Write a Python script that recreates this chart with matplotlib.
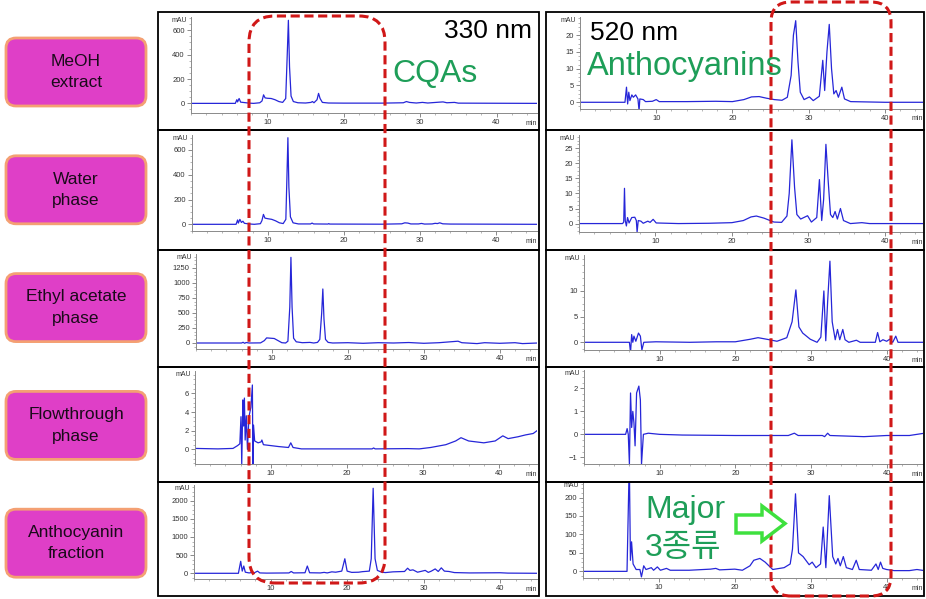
import matplotlib
matplotlib.use("Agg")
import matplotlib.pyplot as plt
from matplotlib.patches import FancyBboxPatch, Rectangle, Polygon
from matplotlib.transforms import IdentityTransform
from matplotlib.ticker import AutoMinorLocator

plt.rcParams['font.family'] = ['Liberation Sans', 'Noto Sans CJK KR', 'DejaVu Sans']

# chromatogram traces: (time in min, absorbance in mAU)
meoh_330 = [(0, 0), (5.8, 0), (6.0, 30), (6.1, 12), (6.3, 40), (6.5, 10), (6.8, 8), (7.2, 5), (7.6, 2), (8.2, 0),
            (9.0, 5), (9.3, 20), (9.5, 70), (9.7, 45), (10.0, 42), (10.5, 40), (11.0, 30), (11.5, 15), (12.0, 8),
            (12.4, 40), (12.6, 400), (12.75, 682), (12.9, 300), (13.1, 60), (13.4, 15), (14.0, 5), (15.0, 3),
            (15.7, 8), (15.9, 15), (16.1, 5), (16.5, 30), (16.7, 82), (16.9, 40), (17.2, 8), (18.0, 3), (20.0, 2),
            (25.0, 2), (27.8, 5), (28.2, 15), (28.6, 8), (29.5, 3), (30.3, 8), (31.0, 3), (32.5, 10), (33.0, 12),
            (33.5, 5), (34.5, 8), (35.0, 2), (40.0, 1), (45.3, 0)]
water_330 = [(0, 0), (5.8, 0), (6.0, 35), (6.1, 10), (6.3, 40), (6.5, 15), (6.7, 25), (6.9, 8), (7.5, 3), (8.2, 0),
             (9.0, 5), (9.2, 30), (9.4, 80), (9.6, 50), (10.0, 45), (10.5, 40), (11.0, 28), (11.5, 12), (12.0, 6),
             (12.35, 40), (12.5, 400), (12.62, 699), (12.75, 300), (12.95, 60), (13.3, 12), (14, 3), (15.6, 3),
             (15.8, 10), (16.0, 3), (17.9, 2), (18.0, 6), (18.1, 2), (25, 1), (27.6, 4), (28.0, 12), (28.4, 10),
             (28.8, 3), (29.8, 3), (30.2, 7), (30.6, 2), (31.6, 3), (32.0, 8), (32.3, 6), (32.6, 12), (33.0, 4),
             (34, 2), (40, 1), (45.4, 0)]
etoac_330 = [(0, 0), (6.0, 0), (6.2, 12), (6.4, -5), (6.6, 8), (7.0, 0), (8.5, 2), (9.0, 40), (9.3, 85), (9.8, 80),
             (10.3, 75), (10.8, 40), (11.3, 5), (11.8, 0), (12.1, 30), (12.35, 600), (12.5, 1427), (12.65, 600),
             (12.85, 80), (13.2, 20), (14, 5), (15, 10), (15.5, 0), (16.0, 10), (16.3, 60), (16.55, 500),
             (16.7, 900), (16.85, 400), (17.05, 60), (17.4, 10), (18, 0), (20, 5), (22, -5), (24, 5), (26, 0),
             (28, 8), (30, -5), (32, 5), (34.5, 30), (35, 5), (37, -10), (38, 5), (40, -5), (42, 5), (43, -10),
             (45, 0)]
flow_330 = [(0, 0.1), (3, 0.05), (5.0, 0.1), (5.6, 0.4), (5.9, 0.6), (6.05, 3.5), (6.15, -1.6), (6.3, 5.3),
            (6.4, 2.5), (6.5, 5.5), (6.6, 1.0), (6.75, 3.6), (6.9, 0.0), (7.1, 3.5), (7.35, 4.5), (7.55, 6.9),
            (7.62, -1.6), (7.7, 2.6), (7.85, 0.9), (8.3, 0.7), (8.7, 0.8), (8.8, 1.0), (9.0, 0.5), (10, 0.4),
            (11, 0.3), (12.3, 0.2), (12.6, 0.7), (12.9, 0.2), (14, 0.05), (20, 0.05), (23.3, 0.05), (23.5, 0.15),
            (23.7, 0.05), (28, 0.08), (29.5, 0.05), (31, 0.2), (33, 0.5), (34.3, 0.9), (35.0, 1.25), (36.0, 0.9),
            (38, 0.7), (39.5, 0.9), (40.5, 1.45), (41.2, 1.15), (42.5, 1.35), (43.5, 1.55), (44.5, 1.7), (45.0, 2.0)]
antho_330 = [(0, 0), (5.8, 0), (6.1, 330), (6.3, 60), (6.5, 200), (6.7, 30), (7.2, 10), (7.5, 20), (7.8, 5),
             (8.3, 60), (8.6, 10), (9.5, 5), (12.4, 10), (12.7, 50), (13.0, 10), (14.5, 15), (14.8, 200), (15.1, 15),
             (16.5, 10), (17.0, 25), (17.4, 10), (18.0, 40), (18.5, 30), (19.3, 60), (19.7, 400), (20.0, 60),
             (20.6, 25), (21.5, 30), (22.0, 45), (22.9, 60), (23.15, 400), (23.4, 2340), (23.65, 400), (23.95, 80),
             (24.5, 30), (25, 20), (26, 40), (27.5, 50), (27.9, 140), (28.2, 80), (28.6, 95), (29.2, 30), (30.2, 80),
             (30.6, 25), (31.0, 60), (31.5, 120), (31.9, 50), (32.3, 150), (32.7, 60), (33.3, 50), (34, 20),
             (35, 15), (36, 10), (40, 15), (41, 5), (45, 0)]

meoh_520 = [(0, 0), (5.9, 0), (6.1, 4.5), (6.25, -0.5), (6.4, 3.0), (6.55, 0.5), (6.8, 2.2), (7.0, 1.5), (7.3, 2.2),
            (7.6, 1.0), (7.75, -2.5), (7.85, 1.0), (8.3, 0.8), (8.6, 0.2), (9.5, 0.3), (10.0, 0.8), (10.4, 0.2),
            (14, 0.2), (17.8, 0.3), (20, 0.2), (21.5, 0.8), (22.5, 1.6), (23.5, 1.7), (24.5, 1.2), (25.5, 0.8),
            (26.5, 0.6), (27.2, 1.5), (27.7, 8), (28.0, 20), (28.3, 24.3), (28.6, 12), (28.9, 3), (29.4, 0.8),
            (30.1, 1.6), (30.6, 0.5), (31.4, 1.8), (31.85, 12.5), (32.1, 3.5), (32.4, 15), (32.7, 23.2), (33.0, 10),
            (33.3, 2.5), (33.6, 3.5), (33.9, 1.5), (34.35, 4.5), (34.7, 1.0), (35.5, 0.2), (40, 0), (45, 0)]
water_520 = [(0, 0), (5.7, 0), (5.85, 0.5), (5.95, 11.7), (6.05, 1.0), (6.2, -0.8), (6.35, 2.0), (6.55, 0.2),
             (6.9, 2.0), (7.3, 2.1), (7.5, 1.0), (7.6, -2.8), (7.75, 1.0), (8.1, 0.8), (8.4, 0.1), (9.0, 0.8),
             (9.3, 0.4), (9.7, 1.4), (10.1, 0.2), (13, 0), (17, 0.1), (20, 0.3), (21.5, 1.0), (22.5, 2.2), (23.2, 2.5),
             (24.2, 1.8), (25.5, 0.5), (26.5, 0.4), (27.2, 2.5), (27.5, 10), (27.85, 27.8), (28.2, 12), (28.5, 3),
             (29, 1.5), (29.9, 2.6), (30.4, 0.5), (31.1, 2), (31.45, 14.6), (31.75, 1.0), (32.0, 8), (32.3, 26.3),
             (32.6, 14), (32.9, 3), (33.2, 2), (33.5, 4), (33.8, 1.5), (34.2, 5), (34.6, 1), (35.5, 0), (37, 0.3),
             (38, 0), (45, 0)]
etoac_520 = [(0, 0), (6.0, 0), (6.15, -2.0), (6.3, 1.5), (6.45, 0), (6.6, 1.2), (6.85, 0.2), (7.2, 1.8), (7.45, 1.2),
             (7.65, -1.5), (7.9, 0), (9.5, 0.1), (14, 0), (17.5, 0.1), (20, 0.1), (22, 0.6), (23, 0.9), (24.5, 0.5),
             (25.5, 0.2), (26.8, 0.9), (27.5, 4), (28.0, 10.2), (28.4, 3), (28.9, 1.8), (29.9, 0.6), (30.8, 0),
             (31.3, 1.0), (31.7, 10), (31.95, 0.3), (32.2, 8), (32.5, 15.8), (32.8, 4), (33.2, 0.5), (33.5, 2.5),
             (33.8, 0.5), (34.2, 2.5), (34.5, 0.5), (35, 0), (36, 0.4), (36.5, 0), (38.5, 0), (38.8, 1.9), (39.1, 0.1),
             (39.5, 0.5), (40.0, 0.2), (40.4, 0.6), (40.8, 0), (41.2, 1.2), (41.5, 0), (45, 0)]
flow_520 = [(0, 0), (5.5, 0), (5.7, 0.25), (5.85, 0), (6.0, -1.3), (6.15, 1.8), (6.3, 0.3), (6.45, 1.0), (6.6, 0.5),
            (6.75, -0.5), (6.95, 1.8), (7.25, 2.1), (7.45, 1.5), (7.6, -1.3), (7.85, 0), (8.5, 0.05), (10, 0),
            (13, -0.03), (20, -0.05), (27, -0.05), (27.8, 0.05), (28.3, -0.05), (31.5, -0.05), (31.8, -0.1),
            (32.2, 0.05), (32.5, -0.05), (37, -0.1), (40, -0.05), (43, -0.05), (45, 0.05)]
antho_520 = [(0, 0), (5.8, 0), (6.1, 300), (6.25, 30), (6.4, 80), (6.6, 20), (7.0, 5), (7.5, 5), (7.7, -15), (8.0, 15),
             (8.3, 5), (9.0, 10), (9.3, 3), (9.8, 12), (10.2, 3), (11.0, 8), (11.5, 3), (14, 3), (16.8, 6), (17.5, 8),
             (18, 4), (20, 6), (21, 3), (22, 15), (22.5, 30), (23.3, 35), (24, 25), (25, 5), (26.5, 10), (27.3, 20),
             (27.6, 60), (28.0, 210), (28.4, 50), (29, 40), (29.8, 18), (30.2, 25), (30.7, 10), (31.3, 20),
             (31.65, 120), (32.0, 10), (32.45, 205), (32.9, 40), (33.3, 20), (33.6, 35), (33.9, 15), (34.3, 40),
             (34.7, 10), (35.5, 5), (36, 30), (36.4, 5), (38, 3), (38.6, 20), (38.9, 5), (39.2, 25), (39.5, 8),
             (40, 5), (41, 2), (43, 2), (44, 5), (45, 2)]

sample_labels = ["MeOH\nextract", "Water\nphase", "Ethyl acetate\nphase", "Flowthrough\nphase",
                 "Anthocyanin\nfraction"]
time_ticks = [10, 20, 30, 40]

W, H = 926, 599
fig = plt.figure(figsize=(W / 100, H / 100), dpi=100)
px = IdentityTransform()

# (trace, axes box in pixels l, t, r, b, ylim, y ticks, xmax)
panels = [
    (meoh_330, (191, 17, 537, 113), (-79, 709), [0, 200, 400, 600], 45.3),
    (water_330, (192, 135, 537, 231), (-54, 721), [0, 200, 400, 600], 45.4),
    (etoac_330, (196, 254, 537, 349), (-100, 1483), [0, 250, 500, 750, 1000, 1250], 44.9),
    (flow_330, (195, 371, 537, 464), (-1.57, 8.4), [0, 2, 4, 6], 45.0),
    (antho_330, (194, 485, 537, 579), (-157, 2430), [0, 500, 1000, 1500, 2000], 44.8),
    (meoh_520, (580, 17, 923, 109), (-2, 25.4), [0, 5, 10, 15, 20], 45.0),
    (water_520, (579, 135, 923, 232), (-2.8, 29.4), [0, 5, 10, 15, 20, 25], 45.0),
    (etoac_520, (584, 255, 923, 350), (-1.5, 17), [0, 5, 10], 44.8),
    (flow_520, (584, 370, 923, 464), (-1.29, 2.8), [-1, 0, 1, 2], 44.8),
    (antho_520, (583, 482, 923, 578), (-18, 242), [0, 50, 100, 150, 200], 44.8),
]

for trace, (l, t, r, b), ylim, yticks, xmax in panels:
    ax = fig.add_axes([l / W, 1 - b / H, (r - l) / W, (b - t) / H])
    xs = [p[0] for p in trace]
    ys = [p[1] for p in trace]
    ax.plot(xs, ys, color='#2626d8', lw=0.9)
    ax.set_xlim(0, xmax)
    ax.set_ylim(*ylim)
    ax.set_facecolor('none')
    for s in ['top', 'right']:
        ax.spines[s].set_visible(False)
    for s in ['left', 'bottom']:
        ax.spines[s].set_color('#8a8a8a')
        ax.spines[s].set_linewidth(0.7)
    ax.set_xticks(time_ticks)
    ax.set_yticks(yticks)
    ax.set_yticklabels([str(v) if v >= 0 else '\u22121' for v in yticks])
    ax.xaxis.set_minor_locator(AutoMinorLocator(5))
    ax.yaxis.set_minor_locator(AutoMinorLocator(4))
    ax.tick_params(which='major', direction='out', length=3, width=0.6, color='#777777',
                   labelsize=5.5, labelcolor='#333333', pad=1.5)
    ax.tick_params(which='minor', direction='out', length=1.6, width=0.5, color='#999999')
    ax.text(-0.012, 1.0, 'mAU', transform=ax.transAxes, ha='right', va='top', fontsize=5, color='#333333')
    ax.text(1.0, -0.07, 'min', transform=ax.transAxes, ha='right', va='top', fontsize=5, color='#333333')

# panel frames
for x0, x1 in [(158, 539), (546, 924)]:
    for y0, y1 in [(12, 130), (130, 250), (250, 367), (367, 482), (482, 596)]:
        fig.add_artist(Rectangle((x0, H - y1), x1 - x0, y1 - y0, transform=px, fill=False,
                                 ec='black', lw=1.3, zorder=5))

# sample label boxes
for i, lab in enumerate(sample_labels):
    top = 38 + i * 117.8
    fig.add_artist(FancyBboxPatch((6, H - top - 68), 140, 68, boxstyle="round,pad=0,rounding_size=10",
                                  transform=px, fc='#df3fc7', ec='#f4a073', lw=2, zorder=4))
    fig.text(76 / W, 1 - (top + 34) / H, lab, ha='center', va='center', fontsize=12.5,
             linespacing=1.55, color='#1a0a1a', zorder=6)

# red dashed selection boxes
for x0, y0, x1, y1, rr in [(249, 16, 385, 583, 26), (771, 2, 891, 596, 20)]:
    fig.add_artist(FancyBboxPatch((x0, H - y1), x1 - x0, y1 - y0,
                                  boxstyle=f"round,pad=0,rounding_size={rr}", transform=px, fill=False,
                                  ec='#d01818', lw=2.2, ls=(0, (3, 1.5)), zorder=10))

green = '#1e9e58'
fig.text(532 / W, 1 - 38 / H, '330 nm', ha='right', va='baseline', fontsize=19, color='black', zorder=11)
fig.text(590 / W, 1 - 40 / H, '520 nm', ha='left', va='baseline', fontsize=19, color='black', zorder=11)
fig.text(392 / W, 1 - 82 / H, 'CQAs', ha='left', va='baseline', fontsize=23, color=green, zorder=11)
fig.text(587 / W, 1 - 75 / H, 'Anthocyanins', ha='left', va='baseline', fontsize=23.5, color=green, zorder=11)
fig.text(645 / W, 1 - 518 / H, 'Major', ha='left', va='baseline', fontsize=23, color=green, zorder=11)
fig.text(645 / W, 1 - 556 / H, '3종류', ha='left', va='baseline', fontsize=23, color=green, zorder=11)

# hollow green arrow
arrow_pts = [(736, 515), (762, 515), (762, 506), (785, 523.5), (762, 541), (762, 533), (736, 533)]
fig.add_artist(Polygon([(x, H - y) for x, y in arrow_pts], closed=True, transform=px,
                       fc='white', ec='#3ee03e', lw=2.5, zorder=11))

fig.savefig('out.png', dpi=100)
